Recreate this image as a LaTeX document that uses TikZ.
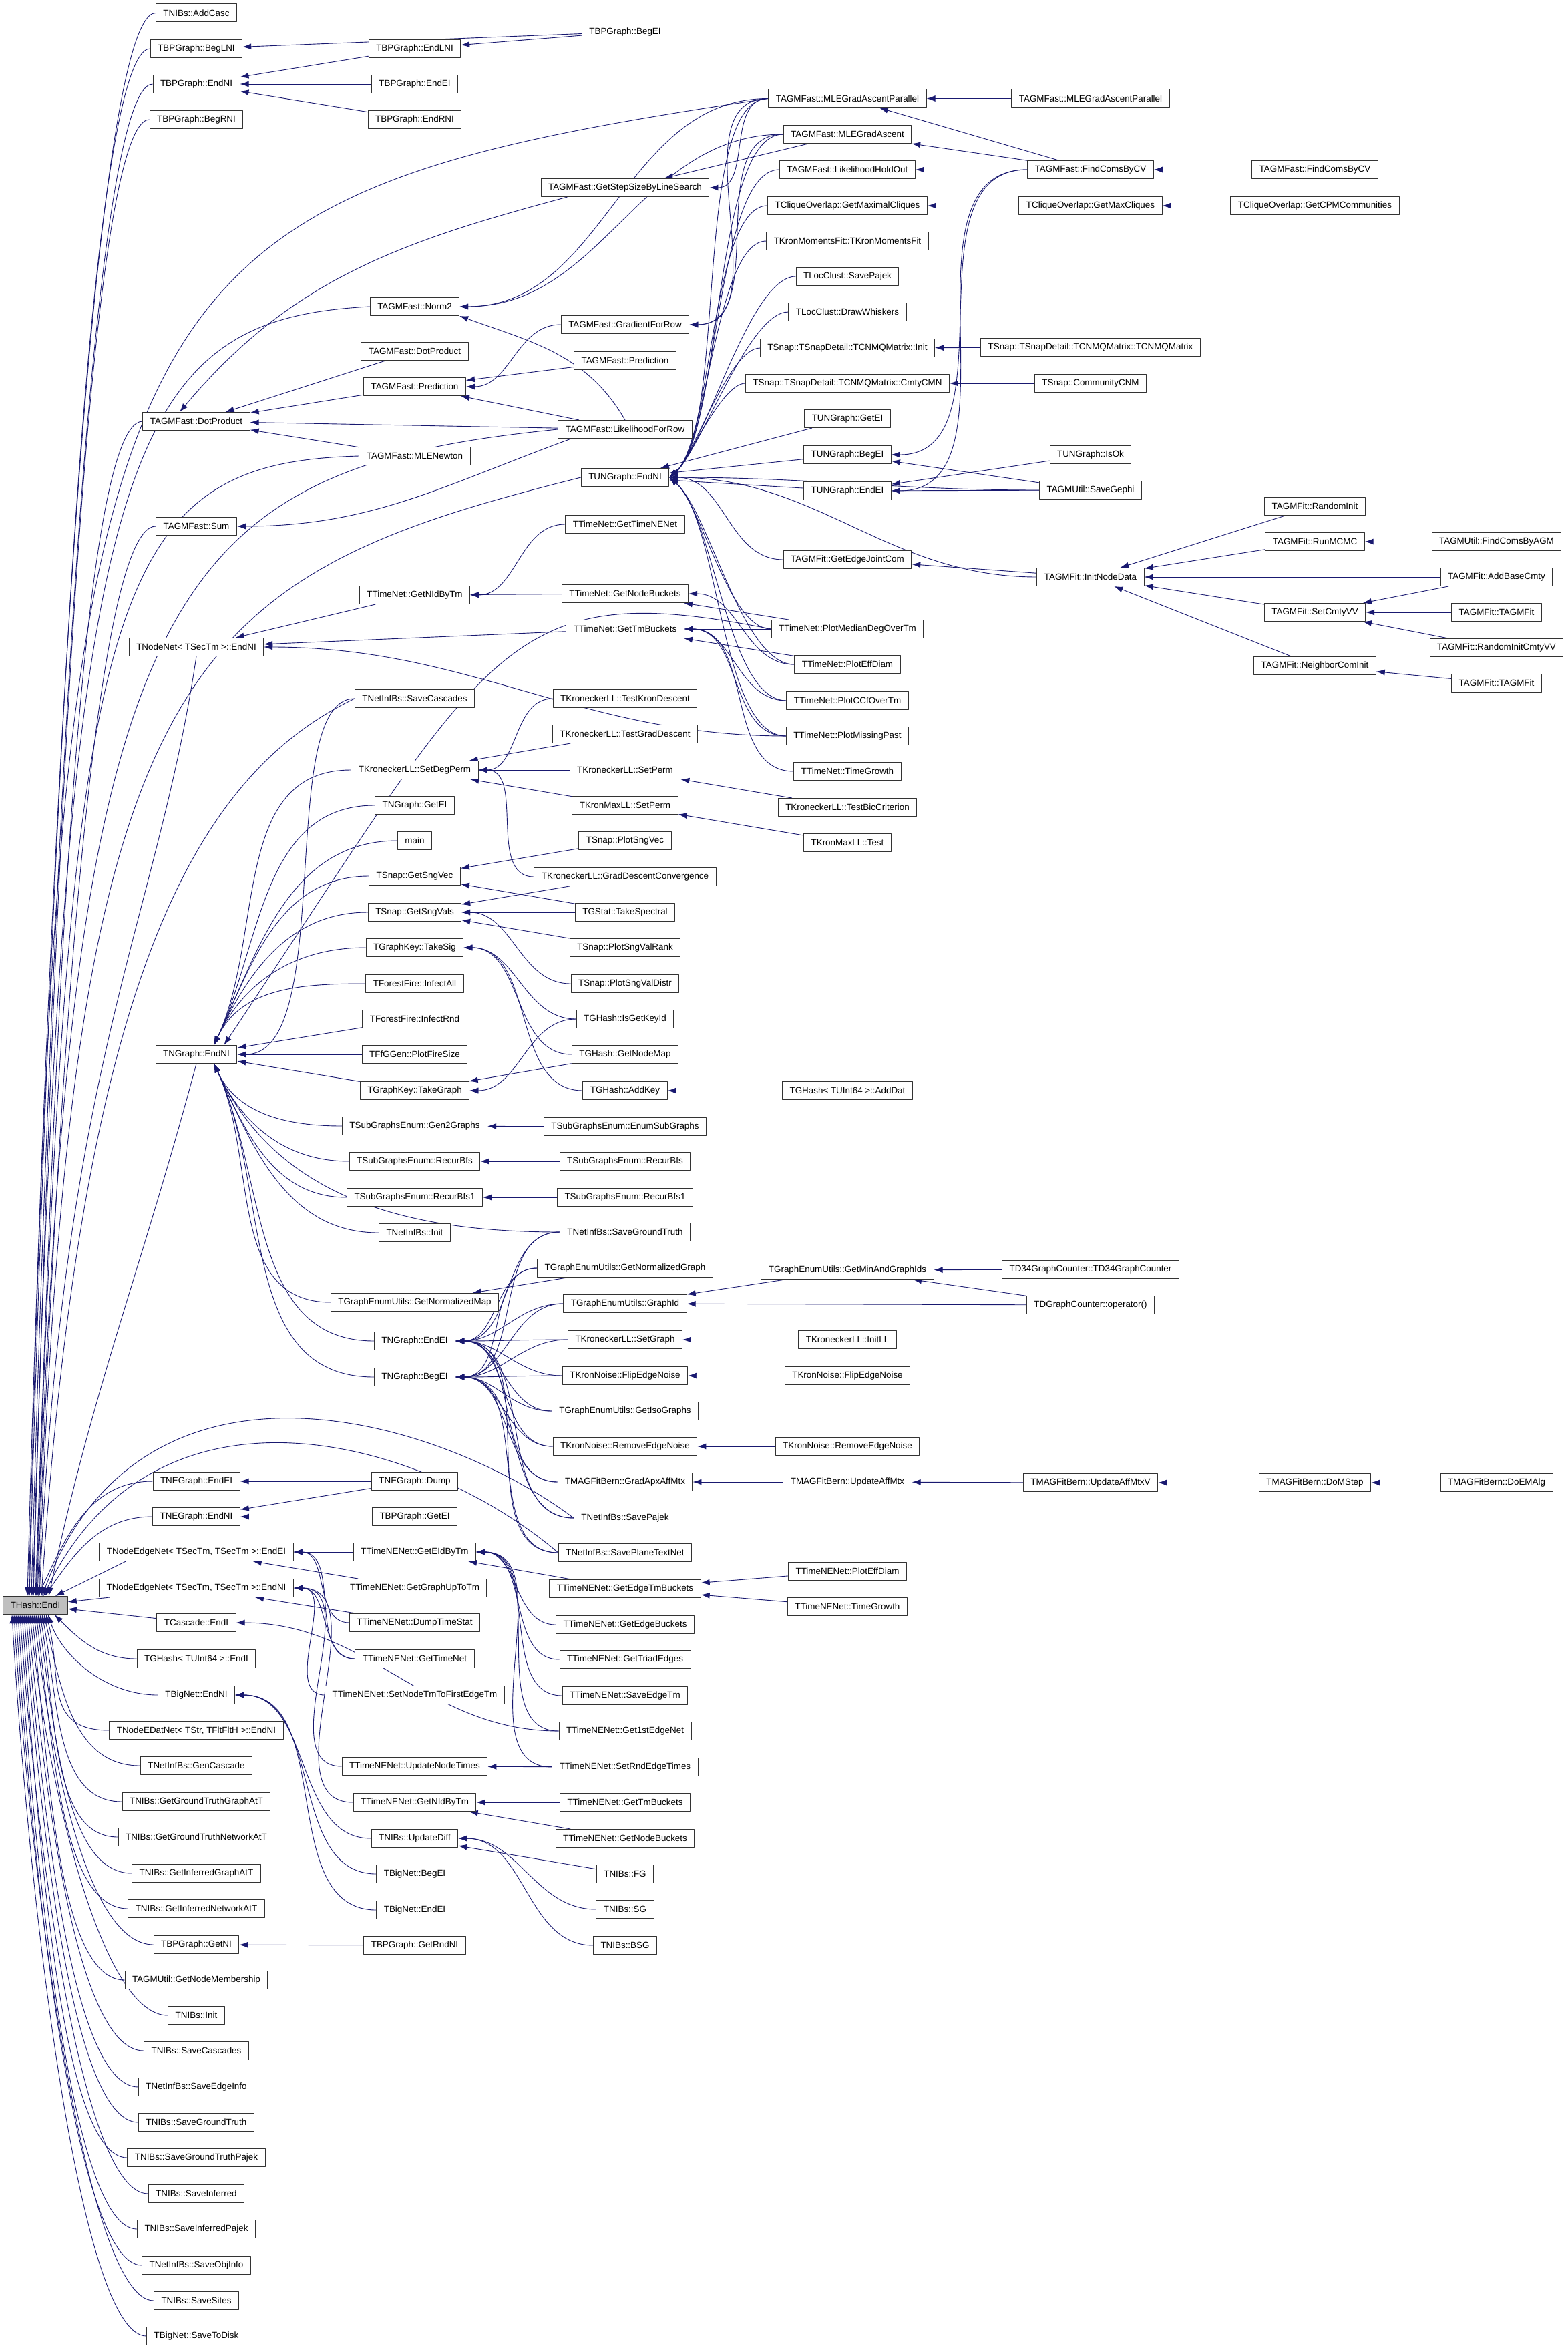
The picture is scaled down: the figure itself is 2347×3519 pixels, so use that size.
\documentclass[tikz,border=0pt]{standalone}
\usepackage{fontspec}
\setmainfont{Liberation Sans}
\usetikzlibrary{arrows.meta}
\pgfdeclarelayer{edges}
\pgfsetlayers{edges,main}
\definecolor{calledge}{HTML}{191970}
\definecolor{rootfill}{HTML}{BFBFBF}
\tikzset{
  fn/.style={draw=black!80, line width=1pt, fill=white, minimum height=27pt,
    inner xsep=11pt, inner ysep=0pt, font=\fontsize{13.4}{16}\selectfont},
  root/.style={fn, fill=rootfill},
  call/.style={draw=calledge, line width=0.9pt, -{Latex[length=13pt,width=9pt]}},
}
\begin{document}
\begin{tikzpicture}[x=1pt, y=1pt, line join=round, line cap=round]
\useasboundingbox (0,0) rectangle (2347,-3519);

% the called function
\node[root] (hash) at (53,-2404) {THash::EndI};

% column 1
\foreach \n/\y/\t in {AddCasc/19.5/TNIBs::AddCasc, BegLNI/73/TBPGraph::BegLNI,
    bpEndNI/126/TBPGraph::EndNI, BegRNI/179/TBPGraph::BegRNI, dotA/631/TAGMFast::DotProduct,
    sum/788/TAGMFast::Sum, nnEndNI/969/TNodeNet< TSecTm >::EndNI, ngEndNI/1579/TNGraph::EndNI,
    neEndEI/2218/TNEGraph::EndEI, neEndNI/2271/TNEGraph::EndNI, cascEndI/2430/TCascade::EndI,
    ghEndI/2484/TGHash< TUInt64 >::EndI, bnEndNI/2538/TBigNet::EndNI,
    genCasc/2644/TNetInfBs::GenCascade, gtGraph/2698/TNIBs::GetGroundTruthGraphAtT,
    gtNet/2751/TNIBs::GetGroundTruthNetworkAtT, infGraph/2805/TNIBs::GetInferredGraphAtT,
    infNet/2858/TNIBs::GetInferredNetworkAtT, bpGetNI/2912/TBPGraph::GetNI,
    nodeMem/2965/TAGMUtil::GetNodeMembership, nibsInit/3018/TNIBs::Init,
    nibsSaveCasc/3071/TNIBs::SaveCascades, saveEdgeInfo/3125/TNetInfBs::SaveEdgeInfo,
    nibsSaveGT/3178/TNIBs::SaveGroundTruth, nibsSaveGTP/3231/TNIBs::SaveGroundTruthPajek,
    nibsSaveInf/3285/TNIBs::SaveInferred, nibsSaveInfP/3338/TNIBs::SaveInferredPajek,
    saveObj/3392/TNetInfBs::SaveObjInfo, saveSites/3445/TNIBs::SaveSites,
    saveDisk/3498/TBigNet::SaveToDisk}
  \node[fn] (\n) at (294,-\y) {\t};
\node[fn] (nenEndEI) at (294,-2324) {TNodeEdgeNet< TSecTm, TSecTm >::EndEI};
\node[fn] (nenEndNI) at (294,-2378) {TNodeEdgeNet< TSecTm, TSecTm >::EndNI};
\node[fn] (nedEndNI) at (294,-2591) {TNodeEDatNet< TStr, TFltFltH >::EndNI};

% column 2
\foreach \n/\y/\t in {EndLNI/73/TBPGraph::EndLNI, bpEndEI/126/TBPGraph::EndEI,
    EndRNI/179/TBPGraph::EndRNI, norm2/459/TAGMFast::Norm2, dotB/526/TAGMFast::DotProduct,
    predB/579/TAGMFast::Prediction, mleNewton/683/TAGMFast::MLENewton,
    tnNIdByTm/891/TTimeNet::GetNIdByTm, nibSaveCasc/1046/TNetInfBs::SaveCascades,
    setDegPerm/1153/TKroneckerLL::SetDegPerm, ngGetEI/1206/TNGraph::GetEI, main/1259/main,
    sngVec/1312/TSnap::GetSngVec, sngVals/1366/TSnap::GetSngVals, takeSig/1419/TGraphKey::TakeSig,
    infectAll/1473/TForestFire::InfectAll, infectRnd/1526/TForestFire::InfectRnd,
    fireSize/1579/TFfGGen::PlotFireSize, takeGraph/1633/TGraphKey::TakeGraph,
    gen2/1686/TSubGraphsEnum::Gen2Graphs, recBfs/1739/TSubGraphsEnum::RecurBfs,
    recBfs1/1793/TSubGraphsEnum::RecurBfs1, nibInit/1846/TNetInfBs::Init,
    normMap/1950/TGraphEnumUtils::GetNormalizedMap, ngEndEI/2008/TNGraph::EndEI,
    ngBegEI/2062/TNGraph::BegEI, neDump/2218/TNEGraph::Dump, bpGetEI/2271/TBPGraph::GetEI,
    eidByTm/2324/TTimeNENet::GetEIdByTm, upToTm/2378/TTimeNENet::GetGraphUpToTm,
    dumpStat/2430/TTimeNENet::DumpTimeStat, getTimeNet/2484/TTimeNENet::GetTimeNet,
    firstEdgeTm/2538/TTimeNENet::SetNodeTmToFirstEdgeTm,
    updNodeTimes/2645/TTimeNENet::UpdateNodeTimes, nidByTm/2699/TTimeNENet::GetNIdByTm,
    updDiff/2753/TNIBs::UpdateDiff, bnBegEI/2806/TBigNet::BegEI, bnEndEI/2860/TBigNet::EndEI,
    rndNI/2913/TBPGraph::GetRndNI}
  \node[fn] (\n) at (621,-\y) {\t};

% column 3
\foreach \n/\y/\t in {bpBegEI/48/TBPGraph::BegEI, stepSize/281/TAGMFast::GetStepSizeByLineSearch,
    gradRow/486/TAGMFast::GradientForRow, predC/540/TAGMFast::Prediction,
    likeRow/643/TAGMFast::LikelihoodForRow, ugEndNI/715/TUNGraph::EndNI,
    getTimeNENet/785/TTimeNet::GetTimeNENet, nodeBkt/889/TTimeNet::GetNodeBuckets,
    tmBkt/942/TTimeNet::GetTmBuckets, kronDesc/1046/TKroneckerLL::TestKronDescent,
    gradDesc/1099/TKroneckerLL::TestGradDescent, setPerm/1153/TKroneckerLL::SetPerm,
    mlSetPerm/1206/TKronMaxLL::SetPerm, plotSngVec/1259/TSnap::PlotSngVec,
    gdConv/1313/TKroneckerLL::GradDescentConvergence, takeSpec/1366/TGStat::TakeSpectral,
    sngValRank/1419/TSnap::PlotSngValRank, sngValDistr/1473/TSnap::PlotSngValDistr,
    isGetKeyId/1526/TGHash::IsGetKeyId, getNodeMap/1579/TGHash::GetNodeMap,
    addKey/1633/TGHash::AddKey, enumSub/1687/TSubGraphsEnum::EnumSubGraphs,
    recBfsB/1739/TSubGraphsEnum::RecurBfs, recBfs1B/1793/TSubGraphsEnum::RecurBfs1,
    saveGT/1845/TNetInfBs::SaveGroundTruth, normGraph/1899/TGraphEnumUtils::GetNormalizedGraph,
    graphId/1952/TGraphEnumUtils::GraphId, setGraph/2006/TKroneckerLL::SetGraph,
    flipNoise/2060/TKronNoise::FlipEdgeNoise, isoGraphs/2113/TGraphEnumUtils::GetIsoGraphs,
    remNoise/2166/TKronNoise::RemoveEdgeNoise, gradApx/2219/TMAGFitBern::GradApxAffMtx,
    savePajek/2273/TNetInfBs::SavePajek, savePlane/2325/TNetInfBs::SavePlaneTextNet,
    edgeTmBkt/2379/TTimeNENet::GetEdgeTmBuckets, edgeBkt/2433/TTimeNENet::GetEdgeBuckets,
    triad/2485/TTimeNENet::GetTriadEdges, saveEdgeTm/2539/TTimeNENet::SaveEdgeTm,
    firstEdgeNet/2592/TTimeNENet::Get1stEdgeNet, rndEdgeTimes/2646/TTimeNENet::SetRndEdgeTimes,
    tnTmBkt/2699/TTimeNENet::GetTmBuckets, tnNodeBkt/2753/TTimeNENet::GetNodeBuckets,
    fg/2806/TNIBs::FG, sg/2859/TNIBs::SG, bsg/2913/TNIBs::BSG}
  \node[fn] (\n) at (936,-\y) {\t};

% column 4
\foreach \n/\y/\t in {mlePar/147.5/TAGMFast::MLEGradAscentParallel,
    mleGrad/201/TAGMFast::MLEGradAscent, holdOut/254/TAGMFast::LikelihoodHoldOut,
    maxCliques/308/TCliqueOverlap::GetMaximalCliques,
    kronMom/361/TKronMomentsFit::TKronMomentsFit, lcPajek/414/TLocClust::SavePajek,
    whiskers/467/TLocClust::DrawWhiskers, cnmInit/521/TSnap::TSnapDetail::TCNMQMatrix::Init,
    cmtyCMN/574/TSnap::TSnapDetail::TCNMQMatrix::CmtyCMN, ugGetEI/627/TUNGraph::GetEI,
    ugBegEI/681/TUNGraph::BegEI, ugEndEI/735/TUNGraph::EndEI,
    jointCom/838/TAGMFit::GetEdgeJointCom, medDeg/942/TTimeNet::PlotMedianDegOverTm,
    tnEffDiam/995/TTimeNet::PlotEffDiam, ccf/1049/TTimeNet::PlotCCfOverTm,
    missPast/1102/TTimeNet::PlotMissingPast, tnGrowth/1155/TTimeNet::TimeGrowth,
    bic/1209/TKroneckerLL::TestBicCriterion, mlTest/1262/TKronMaxLL::Test,
    addDat/1633/TGHash< TUInt64 >::AddDat, minAndIds/1902/TGraphEnumUtils::GetMinAndGraphIds,
    initLL/2006/TKroneckerLL::InitLL, flipNoiseB/2060/TKronNoise::FlipEdgeNoise,
    remNoiseB/2166/TKronNoise::RemoveEdgeNoise, updAff/2219/TMAGFitBern::UpdateAffMtx,
    tneEffDiam/2353/TTimeNENet::PlotEffDiam, tneGrowth/2406/TTimeNENet::TimeGrowth}
  \node[fn] (\n) at (1269,-\y) {\t};

% columns 5 to 7
\foreach \n/\y/\t in {mleParB/147.5/TAGMFast::MLEGradAscentParallel, cv/254/TAGMFast::FindComsByCV,
    maxCliquesB/308/TCliqueOverlap::GetMaxCliques,
    cnmMat/520/TSnap::TSnapDetail::TCNMQMatrix::TCNMQMatrix, commCNM/574/TSnap::CommunityCNM,
    isOk/681/TUNGraph::IsOk, gephi/734/TAGMUtil::SaveGephi, initData/864/TAGMFit::InitNodeData,
    d34/1901/TD34GraphCounter::TD34GraphCounter, dgOp/1954/TDGraphCounter::operator(),
    updAffV/2220/TMAGFitBern::UpdateAffMtxV}
  \node[fn] (\n) at (1633,-\y) {\t};
\foreach \n/\y/\t in {cvB/254/TAGMFast::FindComsByCV, cpm/308/TCliqueOverlap::GetCPMCommunities,
    rndInit/758/TAGMFit::RandomInit, mcmc/811/TAGMFit::RunMCMC, setCmty/917/TAGMFit::SetCmtyVV,
    nbrInit/997/TAGMFit::NeighborComInit, mStep/2220/TMAGFitBern::DoMStep}
  \node[fn] (\n) at (1969,-\y) {\t};
\foreach \n/\y/\t in {agm/811/TAGMUtil::FindComsByAGM, baseCmty/864/TAGMFit::AddBaseCmty,
    agmfitA/917/TAGMFit::TAGMFit, rndCmty/970/TAGMFit::RandomInitCmtyVV,
    agmfitB/1023/TAGMFit::TAGMFit, emAlg/2220/TMAGFitBern::DoEMAlg}
  \node[fn] (\n) at (2241,-\y) {\t};

\begin{pgfonlayer}{edges}
% callers of THash::EndI, from above and below
\foreach \s/\k/\d in {AddCasc/950/-12, BegLNI/930/-9, bpEndNI/905/-6, BegRNI/885/-3, dotA/700/0, sum/640/3}
  \draw[call] (\s.west) .. controls +(-100,0) and +(25,\k) .. ([xshift=\d pt]hash.north);
\foreach \s/\k/\d in {nedEndNI/90/16, genCasc/110/13, gtGraph/130/10, gtNet/150/7, infGraph/170/4,
    infNet/190/1, bpGetNI/210/-2, nodeMem/230/-5, nibsInit/250/-8, nibsSaveCasc/270/-11,
    saveEdgeInfo/290/-14, nibsSaveGT/310/-17, nibsSaveGTP/330/-20, nibsSaveInf/350/-23,
    nibsSaveInfP/370/-26, saveObj/390/-29, saveSites/410/-32, saveDisk/430/-35}
  \draw[call] (\s.west) .. controls +(-100,0) and +(25,-\k) .. ([xshift=\d pt]hash.south);
\draw[call] (nnEndNI.south) .. controls +(-60,-400) and +(35,800) .. ([xshift=6pt]hash.north);
\draw[call] (ngEndNI.south) to[out=-105,in=78] ([xshift=20pt]hash.north);
\draw[call] (neEndEI.west) to[out=180,in=65] ([xshift=4pt]hash.north);
\draw[call] (neEndNI.west) to[out=180,in=55] ([xshift=14pt]hash.north);
\draw[call] ([xshift=40pt]nenEndEI.south west) -- ([xshift=30pt]hash.north);
\draw[call] (nenEndNI) -- (hash);
\draw[call] (cascEndI) -- (hash);
\draw[call] (ghEndI.west) to[out=180,in=-45] ([xshift=-20pt]hash.south east);
\draw[call] (bnEndNI.west) .. controls +(-80,0) and +(20,-60) .. ([xshift=19pt]hash.south);
\draw[call] (mlePar.west) .. controls +(-1000,-150) and +(50,2000) .. ([xshift=-10pt]hash.north);
\draw[call] (norm2.west) .. controls +(-380,-20) and +(50,1700) .. ([xshift=-4pt]hash.north);
\draw[call] (mleNewton.west) .. controls +(-380,-10) and +(50,1500) .. ([xshift=1pt]hash.north);
\draw[call] (likeRow.west) .. controls +(-600,-60) and +(50,1500) .. ([xshift=2pt]hash.north);
\draw[call] (ugEndNI.west) .. controls +(-600,-150) and +(50,1400) .. ([xshift=5pt]hash.north);
\draw[call] (nibSaveCasc.west) .. controls +(-250,-120) and +(60,900) .. ([xshift=9pt]hash.north);
\draw[call] (savePajek.west) .. controls +(-200,150) and +(150,400) .. ([xshift=10pt]hash.north);
\draw[call] (savePlane.west) .. controls +(-200,170) and +(170,350) .. ([xshift=12pt]hash.north);

% straight calls
\foreach \s/\t in {EndLNI/bpEndNI, bpEndEI/bpEndNI, EndRNI/bpEndNI, bpBegEI/BegLNI, bpBegEI/EndLNI,
    dotB/dotA, predB/dotA, mleNewton/dotA, likeRow/dotA, predC/predB, likeRow/predB,
    mleGrad/stepSize, tnNIdByTm/nnEndNI, tmBkt/nnEndNI, nodeBkt/tnNIdByTm,
    medDeg/nodeBkt, medDeg/tmBkt, tnEffDiam/tmBkt,
    ugGetEI/ugEndNI, ugBegEI/ugEndNI, ugEndEI/ugEndNI,
    isOk/ugBegEI, isOk/ugEndEI, gephi/ugBegEI, gephi/ugEndEI,
    mleParB/mlePar, cv/mlePar, cv/mleGrad, cv/holdOut, cvB/cv,
    maxCliquesB/maxCliques, cpm/maxCliquesB, cnmMat/cnmInit, commCNM/cmtyCMN,
    initData/jointCom, rndInit/initData, mcmc/initData, baseCmty/initData, setCmty/initData,
    nbrInit/initData, agm/mcmc, baseCmty/setCmty, agmfitA/setCmty, rndCmty/setCmty, agmfitB/nbrInit,
    gradDesc/setDegPerm, setPerm/setDegPerm, mlSetPerm/setDegPerm, bic/setPerm, mlTest/mlSetPerm,
    infectRnd/ngEndNI, fireSize/ngEndNI, takeGraph/ngEndNI,
    plotSngVec/sngVec, takeSpec/sngVec, gdConv/sngVals, takeSpec/sngVals, sngValRank/sngVals,
    getNodeMap/takeGraph, addKey/takeGraph, addDat/addKey,
    enumSub/gen2, recBfsB/recBfs, recBfs1B/recBfs1, normGraph/normMap,
    minAndIds/graphId, dgOp/graphId, d34/minAndIds, dgOp/minAndIds,
    initLL/setGraph, flipNoiseB/flipNoise, remNoiseB/remNoise, updAff/gradApx, updAffV/updAff,
    mStep/updAffV, emAlg/mStep,
    neDump/neEndEI, neDump/neEndNI, bpGetEI/neEndNI,
    eidByTm/nenEndEI, upToTm/nenEndEI, dumpStat/nenEndNI,
    edgeTmBkt/eidByTm, tneEffDiam/edgeTmBkt, tneGrowth/edgeTmBkt, rndEdgeTimes/updNodeTimes,
    tnTmBkt/nidByTm, tnNodeBkt/nidByTm, fg/updDiff, rndNI/bpGetNI}
  \draw[call] (\s) -- (\t);

% curved calls
\foreach \s/\t in {gradRow/predB, getTimeNENet/tnNIdByTm, tnEffDiam/nodeBkt, ccf/tmBkt,
    missPast/tmBkt, tnGrowth/tmBkt, kronDesc/setDegPerm, gdConv/setDegPerm, sngValDistr/sngVals,
    isGetKeyId/takeSig, getNodeMap/takeSig, addKey/takeSig, isGetKeyId/takeGraph,
    mlePar/stepSize, mlePar/gradRow, mleGrad/gradRow, mlePar/norm2, mleGrad/norm2,
    cv/ugBegEI, cv/ugEndEI, edgeBkt/eidByTm, triad/eidByTm, saveEdgeTm/eidByTm,
    firstEdgeNet/eidByTm, rndEdgeTimes/eidByTm, getTimeNet/nenEndEI, getTimeNet/nenEndNI,
    dumpStat/nenEndEI, firstEdgeTm/nenEndNI, updNodeTimes/nenEndNI, nidByTm/nenEndNI,
    firstEdgeNet/cascEndI, bnBegEI/bnEndNI, bnEndEI/bnEndNI, updDiff/bnEndNI, sg/updDiff,
    bsg/updDiff, missPast/nnEndNI, jointCom/ugEndNI, initData/ugEndNI, gephi/ugEndNI}
  \draw[call] (\s.west) to[out=180,in=0] (\t.east);
\foreach \s in {mlePar, mleGrad, holdOut, maxCliques, kronMom, lcPajek, whiskers, cnmInit, cmtyCMN}
  \draw[call] (\s.west) to[out=180,in=40,looseness=0.5] (ugEndNI.east);
\foreach \s in {medDeg, tnEffDiam, ccf, missPast}
  \draw[call] (\s.west) to[out=180,in=-40,looseness=0.6] (ugEndNI.east);
\foreach \s in {setDegPerm, ngGetEI, main, sngVec, sngVals, takeSig, infectAll}
  \draw[call] (\s.west) to[out=180,in=65] ([xshift=-35pt]ngEndNI.north east);
\foreach \s in {gen2, recBfs, recBfs1, nibInit, normMap, ngEndEI, ngBegEI, saveGT}
  \draw[call] (\s.west) to[out=180,in=-65] ([xshift=-35pt]ngEndNI.south east);
\foreach \s in {saveGT, normGraph, graphId, setGraph, flipNoise, isoGraphs, remNoise, gradApx,
    savePajek, savePlane} {
  \draw[call] (\s.west) to[out=180,in=0] (ngEndEI.east);
  \draw[call] (\s.west) to[out=180,in=0] (ngBegEI.east);
}
\draw[call] (nibSaveCasc.west) .. controls +(-120,0) and +(150,0) .. (ngEndNI.east);
\draw[call] (medDeg.west) .. controls +(-400,80) and +(400,600) .. ([xshift=-20pt]ngEndNI.north east);
\draw[call] ([xshift=40pt]stepSize.south west) to[out=195,in=50] ([xshift=-25pt]dotA.north);
\draw[call] (likeRow.north) to[out=120,in=-20] (norm2.south east);
\draw[call] ([xshift=20pt]likeRow.south west) to[out=200,in=0] (sum.east);
\end{pgfonlayer}
\end{tikzpicture}
\end{document}
